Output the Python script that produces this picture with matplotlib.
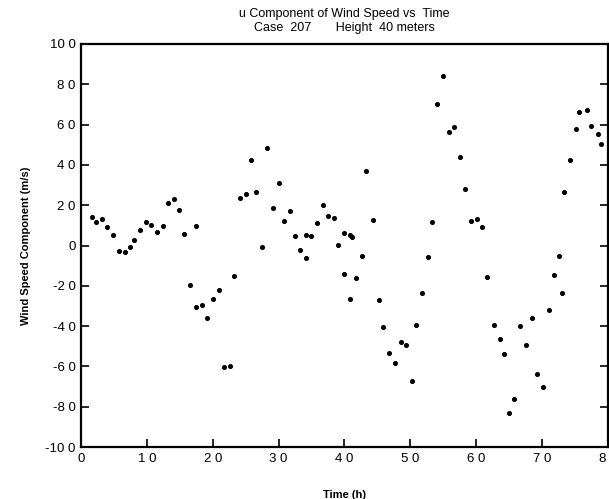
import matplotlib
matplotlib.use("Agg")
import matplotlib.pyplot as plt

plt.rcParams['font.family'] = ['Liberation Sans', 'DejaVu Sans']

# time (h) and u component (m/s)
time_h = [1.6, 2.3, 3.2, 4.0, 4.9, 5.8, 6.7, 7.4, 8.1, 9.0, 9.8, 10.7, 11.6, 12.4,
          13.2, 14.1, 14.9, 15.7, 16.6, 17.4, 17.5, 18.4, 19.1, 20.0, 20.9, 21.7,
          22.6, 23.3, 24.1, 25.0, 25.8, 26.6, 27.5, 28.3, 29.2, 30.1, 30.8, 31.7,
          32.5, 33.3, 34.1, 34.2, 35.0, 35.9, 36.7, 37.5, 38.4, 39.1, 40.0, 40.0,
          40.8, 40.8, 41.2, 41.8, 42.7, 43.3, 44.3, 45.2, 45.9, 46.7, 47.7, 48.6,
          49.3, 50.2, 50.8, 51.8, 52.7, 53.3, 54.0, 54.9, 55.9, 56.6, 57.5, 58.3,
          59.2, 60.1, 60.9, 61.6, 62.7, 63.6, 64.3, 65.0, 65.8, 66.7, 67.6, 68.5,
          69.3, 70.2, 71.0, 71.8, 72.6, 73.1, 73.4, 74.2, 75.1, 75.7, 76.8, 77.5,
          78.5, 79.0]
u_speed = [14.1, 11.5, 13.1, 9.0, 5.1, -2.8, -3.4, -0.7, 2.6, 7.9, 11.8, 10.0, 6.7, 9.7,
           21.2, 23.3, 17.7, 5.8, -19.5, 9.5, -30.5, -29.4, -36.1, -26.4, -22.0, -60.4,
           -59.9, -15.0, 23.6, 25.5, 42.4, 26.3, -0.8, 48.6, 18.6, 31.0, 12.0, 16.9,
           4.8, -2.3, 5.3, -6.4, 4.6, 11.3, 20.2, 14.8, 13.8, 0.3, 6.4, -14.3,
           5.1, -26.3, 4.1, -16.0, -5.4, 37.1, 12.7, -26.8, -40.5, -53.4, -58.3, -47.9,
           -49.4, -67.3, -39.3, -23.6, -5.6, 11.7, 70.3, 84.2, 56.2, 58.6, 44.0, 28.2,
           12.0, 13.1, 9.0, -15.4, -39.6, -46.5, -53.9, -83.3, -76.0, -39.9, -49.6, -35.8,
           -63.7, -70.4, -31.9, -14.4, -5.1, -23.8, 26.5, 42.5, 57.8, 66.0, 67.0, 59.1,
           55.5, 50.6]

x_ticks = [0, 10, 20, 30, 40, 50, 60, 70, 80]
x_labels = ["0", "1 0", "2 0", "3 0", "4 0", "5 0", "6 0", "7 0", "8 0"]
y_ticks = [100, 80, 60, 40, 20, 0, -20, -40, -60, -80, -100]
y_labels = ["10 0", "8 0", "6 0", "4 0", "2 0", "0", "-2 0", "-4 0", "-6 0", "-8 0", "-10 0"]

fig = plt.figure(figsize=(6.09, 4.99), dpi=100)
ax = fig.add_axes([0.133, 0.104, 0.865, 0.808])

ax.scatter(time_h, u_speed, s=7, color="black", zorder=3)

ax.set_xlim(0, 80)
ax.set_ylim(-100, 100)
ax.set_xticks(x_ticks)
ax.set_xticklabels(x_labels)
ax.set_yticks(y_ticks)
ax.set_yticklabels(y_labels)
ax.tick_params(direction="in", length=6, width=1.2, labelsize=9.5, pad=4,
               right=True)
for s in ax.spines.values():
    s.set_linewidth(1.6)

ax.set_xlabel("Time (h)", fontsize=8, fontweight="bold", labelpad=18)
ax.set_ylabel("Wind Speed Component (m/s)", fontsize=8, fontweight="bold", labelpad=10)
ax.set_title("u Component of Wind Speed vs  Time\nCase  207       Height  40 meters",
             fontsize=9, linespacing=1.25, pad=9)

fig.savefig("out.png", dpi=100)
